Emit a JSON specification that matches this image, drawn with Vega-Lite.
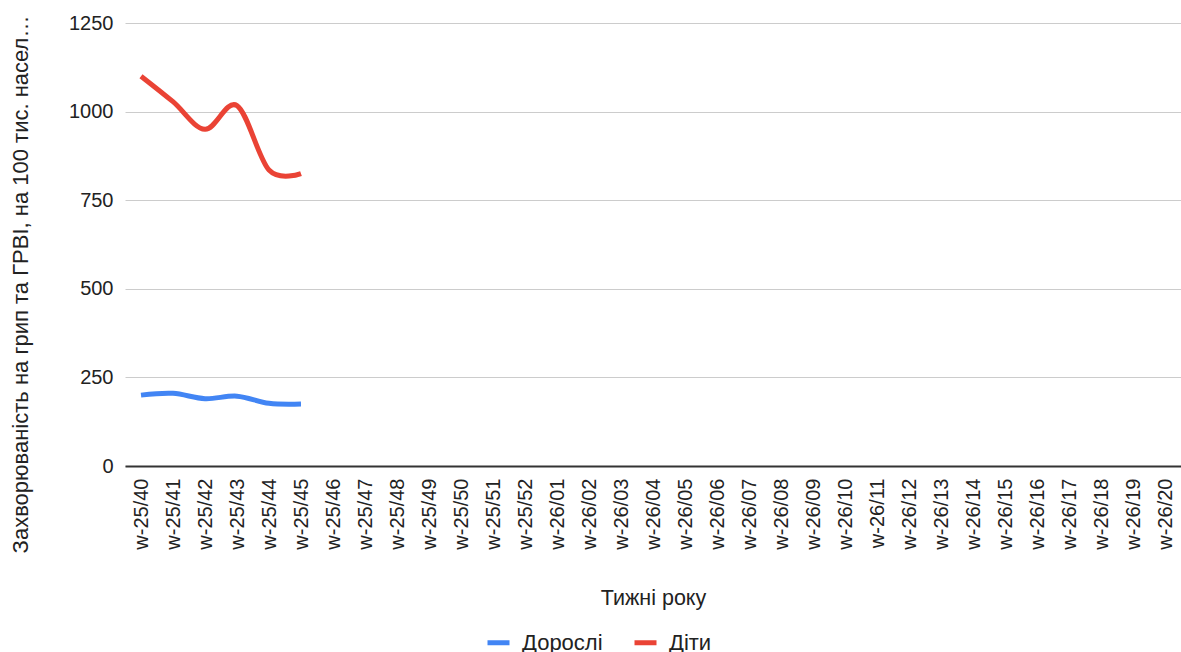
{
  "$schema": "https://vega.github.io/schema/vega-lite/v6.json",
  "autosize": "none",
  "width": 1056,
  "height": 443,
  "padding": {"left": 125, "top": 23, "right": 0, "bottom": 186},
  "background": "white",
  "config": {
    "font": "Liberation Sans",
    "view": {"stroke": null}
  },
  "data": {
    "values": [
      {"week": "w-25/40", "group": "Дорослі", "value": 200},
      {"week": "w-25/41", "group": "Дорослі", "value": 205},
      {"week": "w-25/42", "group": "Дорослі", "value": 190},
      {"week": "w-25/43", "group": "Дорослі", "value": 197},
      {"week": "w-25/44", "group": "Дорослі", "value": 177},
      {"week": "w-25/45", "group": "Дорослі", "value": 175},
      {"week": "w-25/40", "group": "Діти", "value": 1100},
      {"week": "w-25/41", "group": "Діти", "value": 1028},
      {"week": "w-25/42", "group": "Діти", "value": 950},
      {"week": "w-25/43", "group": "Діти", "value": 1017},
      {"week": "w-25/44", "group": "Діти", "value": 835},
      {"week": "w-25/45", "group": "Діти", "value": 825}
    ]
  },
  "mark": {"type": "line", "interpolate": "cardinal", "strokeWidth": 5, "strokeCap": "butt"},
  "encoding": {
    "x": {
      "field": "week",
      "type": "ordinal",
      "sort": null,
      "scale": {
        "type": "point",
        "padding": 0.5,
        "domain": ["w-25/40","w-25/41","w-25/42","w-25/43","w-25/44","w-25/45","w-25/46","w-25/47","w-25/48","w-25/49","w-25/50","w-25/51","w-25/52","w-26/01","w-26/02","w-26/03","w-26/04","w-26/05","w-26/06","w-26/07","w-26/08","w-26/09","w-26/10","w-26/11","w-26/12","w-26/13","w-26/14","w-26/15","w-26/16","w-26/17","w-26/18","w-26/19","w-26/20"]
      },
      "axis": {
        "title": "Тижні року",
        "titleFontSize": 21.5,
        "titleFontWeight": "normal",
        "titleColor": "#222",
        "titleY": 132,
        "titleBaseline": "middle",
        "labelAngle": -90,
        "labelFontSize": 20,
        "labelColor": "#222",
        "labelPadding": 12,
        "labelOverlap": false,
        "ticks": false,
        "grid": false,
        "domainColor": "#333",
        "domainWidth": 2
      }
    },
    "y": {
      "field": "value",
      "type": "quantitative",
      "scale": {"domain": [0, 1250], "nice": false},
      "axis": {
        "title": "Захворюваність на грип та ГРВІ, на 100 тис. насел…",
        "titleFontSize": 22,
        "titleFontWeight": "normal",
        "titleColor": "#222",
        "titleX": -105,
        "titleY": 261,
        "titleAngle": -90,
        "titleAlign": "center",
        "titleBaseline": "middle",
        "titleLimit": 800,
        "values": [0, 250, 500, 750, 1000, 1250],
        "format": "d",
        "labelFontSize": 20,
        "labelColor": "#222",
        "labelPadding": 12,
        "ticks": false,
        "domain": false,
        "gridColor": "#cccccc",
        "gridWidth": 1
      }
    },
    "color": {
      "field": "group",
      "type": "nominal",
      "scale": {"domain": ["Дорослі", "Діти"], "range": ["#4285F4", "#EA4335"]},
      "legend": {
        "title": null,
        "orient": "none",
        "direction": "horizontal",
        "legendX": 360,
        "legendY": 606,
        "symbolType": "stroke",
        "symbolSize": 484,
        "symbolStrokeWidth": 5,
        "labelFontSize": 22,
        "labelColor": "#222",
        "labelOffset": 10,
        "labelLimit": 300,
        "columnPadding": 21
      }
    }
  }
}
